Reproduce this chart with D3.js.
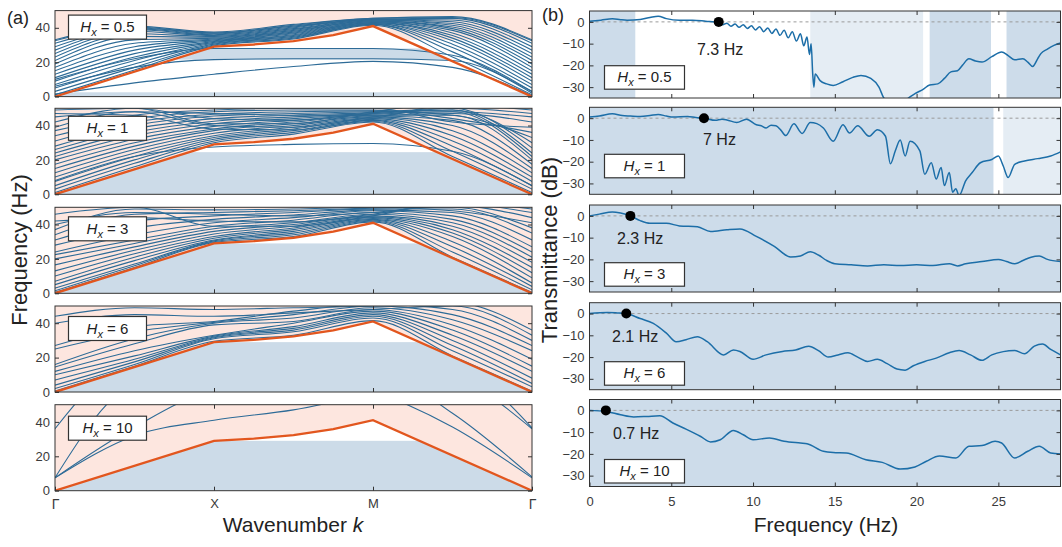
<!DOCTYPE html>
<html><head><meta charset="utf-8">
<script src="https://cdn.jsdelivr.net/npm/d3@7"></script>
<style>body{margin:0;background:#fff} text{font-family:"Liberation Sans",Arial,sans-serif}</style>
</head><body>
<svg id="c" width="1062" height="547"></svg>
<script>
// ---------- DATA ----------
const hxLabels = ['0.5','1','3','6','10'];
const kTicks = [0,1,2,3];
const kLabels = ['Γ','X','M','Γ'];
const freqTicks = [0,20,40];
const dbTicks = [0,-10,-20,-30];
const hzTicks = [0,5,10,15,20,25];
const kGrid = [0,0.5,1,1.5,2,2.5,3];
const orangeK = [0,1,1.25,1.5,1.75,2,3];
const orangeF = [0,29,30.3,32.3,35.8,41,0];
const pinkFloor = [33,0,0,0,0];
const blueBands = [[[0,2.5],[21.5,28]],[[0,24.5]],[[0,29]],[[0,29]],[[0,29]]];

const bands05 = [
 [1.5,8,13,17.5,20.5,17,0.5],[6,17,21.5,22,22,21,2],[10,22,28,28,28,24,3],
 [1,15.5,29.5,33.5,41.5,23,1],[3,17,30,34,42,26,3],[5,19,30.5,34.5,42,28.5,5],
 [7,21,31,35,42.5,30.5,7],[9,23,31.5,35.5,42.5,32.5,9],[11,25,32,36,43,34,11],
 [13,27,32.5,36.5,43,35.5,13],[15,29,33,37,43.5,37,15],[17,31,33.5,37.5,43.5,38.5,17],
 [19,33,34,38,44,39.5,19],[21,35,34.5,38.5,44,40.5,21],[23,36.5,35,39,44.5,41.5,23],
 [25,38,35.5,39.5,44.5,42.5,25],[27,39,36,40,45,43.5,27],[29,39.5,36.5,40.5,45,44.5,29],
 [31,40,37,41,45,45.5,31],[32.5,40.5,37,41.5,45.5,46,32.5],[33,41,37.5,42,45.5,46.5,33]
];
const bands1 = [
 [8,22,27.5,29,29.5,25,5],
 [1,16,30,35,42,22,1],[3,18,31,36,42.5,25,3],[5,20,32,37,43,28,5],[7.5,22,33,38,43.5,31,7.5],
 [10,24,34,39,44,34,10],[12.5,26,35.5,40,44.5,37,12.5],[15,28,37,41,45,40,15],
 [17.5,30,38,42,45.5,43,17.5],[20,32,39.5,43,46,46,20],[22,34,41,44,46.5,48,22],
 [24,36,42.5,45,47,49,24],[26,38,44,46,47.5,50,27],[28,40,45.5,47,48,49,30],
 [31,42,46.5,48,48.5,46,33],[34,44,48,49,49,44,36],[37,46,49,50,50,42,39],
 [39,48,47,46,46,47,42],[42,50,44,43,47,48,45],[45,48,40,39,45,50,47],
 [47,46,38,37.5,44,52,49],[49,50,41,41,48,53,51]
];
const bands3 = [
 [0.5,15,29.5,33,41.5,21,0.5],[1.5,16,30,34,42,24,2],[3,17,30.5,35,42.5,27,4],
 [5,19,31,36,43,30,6],[7,21,32,37,43.5,33,9],[10,23,33,38,44,35,12],
 [13,25,34.5,39,44.5,37,15],[16.5,27,36,40,45,39,18],[20,29,37.5,41,46,41,21],
 [22.5,31,39,42.5,47,43,24],[24,34,41,44,48,45,27],[28,38,43,45.5,48.5,47,31],
 [31,42,45,47,49,49,35],[34,46,47,48,49.5,50,38],[37,49,48.5,49,50,48,41],
 [40,47,46,45,47,51,44],[42,44,42,41.5,46,52,47],[46,50,39,39,45,53,49]
];
const bands6 = [
 [0.5,15,29.5,33,41.5,21,0.5],[2,16,31,35,43,24,3],[4,17.5,31.5,36,44,27,5],
 [7,19,32,37,45,30,8],[10,21,32.5,38,46,33,12],[12,24,33,40,47,36,15],
 [14.5,28,39,41,48,39,19],[16,31,40,43,49,42,24],[25,35,40.5,45,50,45,27],
 [27,38,41,47,51,48,30],[40,45,44,46,48,50,33],[44,49,48,49,50,52,36]
];
const bands10 = [
 [7.5,32,41,47,56,60,60],[7.5,37,58,62,62,62,62],[7.5,62,70,70,70,70,70],
 [36,75,75,75,75,75,75],[70,70,70,70,58,37,7.5],[70,70,70,70,70,45,8],
 [70,70,70,70,70,65,36],[70,70,70,70,70,70,36.5]
];

const trans05 = [[0,0.3],[0.7,0.8],[1.4,1.4],[1.9,1.0],[2.3,0.8],[3.1,1.1],[3.7,2.0],[4.2,2.6],[4.7,1.5],[5.5,0.8],[6.3,0.8],[7.1,0.3],[7.9,-0.3],
 [8.15,-1.3],[8.4,-0.6],[8.65,-2.0],[8.9,-1.0],[9.15,-2.5],[9.4,-1.3],[9.65,-3.0],[9.9,-1.8],[10.15,-3.7],[10.4,-2.2],[10.65,-4.5],[10.9,-2.8],
 [11.15,-5.3],[11.4,-3.3],[11.65,-6.2],[11.9,-3.8],[12.15,-7.3],[12.4,-4.5],[12.65,-8.8],[12.9,-5.5],[13.1,-11],[13.3,-7],[13.45,-15],[13.55,-10],
 [13.65,-24],[13.72,-30],[13.8,-24],[14.1,-27],[14.5,-28.5],[14.9,-29.2],[15.5,-27.5],[16.1,-25.5],[16.6,-24.6],[17.2,-26],[17.7,-30],[18.0,-35],
 [18.6,-38],[19.2,-37],[19.5,-35],[19.9,-33],[20.4,-31],[20.8,-29],[21.3,-28.5],[21.7,-26],[22.1,-23],[22.5,-22.5],[22.8,-20],[23.2,-17],
 [23.6,-18],[24.0,-18.5],[24.6,-16],[25.2,-13.8],[25.6,-15.5],[26.0,-17.4],[26.5,-17],[26.8,-18.5],[27.1,-20.5],[27.4,-17],[27.6,-14.6],
 [28.0,-12.5],[28.4,-10.8],[28.8,-9.7]];
const trans1 = [[0,0.5],[0.6,1.0],[1.4,2.0],[2.0,1.2],[2.5,1.0],[3.1,0.8],[3.7,1.2],[4.2,1.7],[4.7,1.0],[5.1,0.5],[6.0,0.8],[6.5,0.3],[7.0,0],
 [7.7,-1.0],[8.1,-0.5],[8.4,-0.8],[9.0,-2.0],[9.6,-0.5],[10.2,-3.0],[10.5,-3.5],[10.8,-4.5],[11.1,-3.2],[11.4,-3.5],[11.7,-5.5],[12.0,-8],
 [12.5,-2.6],[13.0,-7],[13.5,-2],[13.9,-2.5],[14.3,-4.5],[14.9,-10.6],[15.5,-3],[15.9,-6.8],[16.4,-3.5],[17.1,-8.3],[17.6,-5.3],[18.1,-8.3],
 [18.4,-21],[18.7,-15],[19.0,-10],[19.3,-17.4],[19.6,-10.6],[20.2,-15],[20.5,-25.8],[20.9,-20.5],[21.2,-28],[21.5,-22.7],[21.7,-31],[22.0,-25],
 [22.2,-34],[22.4,-32.5],[22.6,-35.6],[23.0,-28.8],[23.4,-25],[23.9,-20.5],[24.6,-19],[25.0,-17.4],[25.3,-22],[25.6,-27.3],[26.0,-21.2],
 [26.6,-19.7],[27.4,-18.6],[28.2,-17.4],[28.8,-15.5]];
const trans3 = [[0,0],[0.6,0.8],[1.4,1.8],[1.9,1.3],[2.5,0],[3.1,-2.2],[3.7,-3.4],[4.7,-3.4],[5.5,-4.6],[6.6,-5],[7.4,-7.2],[8.4,-6.4],[9.2,-6],
 [10.2,-9.4],[11.3,-14],[12.3,-18.9],[12.9,-18.4],[13.5,-16.5],[14.0,-18],[14.5,-20.5],[15.0,-22],[16.0,-22.5],[17.0,-23],[18.0,-22.5],
 [19.0,-22.8],[20.0,-22.5],[21.0,-22.8],[22.0,-22],[22.5,-23],[23.0,-22],[24.0,-21],[25.0,-20],[25.5,-21],[26.0,-22],[26.5,-20.5],[27.0,-19],
 [27.5,-18.5],[28.0,-20],[28.8,-21]];
const trans6 = [[0,0],[1.1,0.5],[1.7,0.3],[2.25,0],[3.1,-2.3],[3.9,-4.5],[4.7,-9],[5.3,-13],[5.9,-12],[6.6,-10.6],[7.2,-12.9],[8.2,-19],
 [8.8,-16.7],[9.2,-17.4],[10.0,-21],[10.8,-19],[11.8,-17.4],[12.6,-16.7],[13.4,-15],[14.0,-17],[14.6,-20],[15.2,-19],[15.8,-18],[16.4,-20],
 [17.0,-22],[17.6,-21],[18.2,-23],[18.8,-25.5],[19.3,-26],[19.8,-24],[20.5,-22],[21.2,-20.5],[22.0,-18],[22.6,-17],[23.3,-19],[24.0,-21.5],
 [24.6,-19],[25.3,-17.5],[26.0,-17],[26.6,-18.5],[27.2,-15],[27.7,-14],[28.2,-16.5],[28.8,-19]];
const trans10 = [[0,0],[1.0,-0.5],[1.9,-2],[2.7,-3],[3.5,-2.8],[4.3,-2.5],[5.1,-5.8],[5.9,-8.6],[6.8,-12],[7.4,-14.5],[8.0,-13.5],[8.8,-9.2],
 [9.4,-11.2],[10.0,-13.5],[11.0,-12.7],[11.9,-14.2],[12.9,-15],[13.3,-15.3],[14.3,-18.8],[14.9,-19.4],[15.7,-19.6],[16.9,-22.7],[17.9,-23.9],
 [19.0,-27],[19.9,-26],[20.6,-23.4],[21.4,-21],[22.4,-21.9],[23.2,-16.5],[24.0,-16.2],[24.8,-14.2],[25.2,-15],[26.0,-21.9],[26.8,-18.8],
 [27.5,-16.5],[28.2,-19.6],[28.8,-20]];
const dotFreq = [7.9,7.0,2.5,2.25,1.0];
const dotLabels = ['7.3 Hz','7 Hz','2.3 Hz','2.1 Hz','0.7 Hz'];
const shadeB = [
 [[0,2.8,'m'],[13.5,20.4,'l'],[20.8,24.55,'m'],[25.5,28.8,'m']],
 [[0,24.7,'m'],[25.3,28.8,'l']],
 [[0,28.8,'m']],[[0,28.8,'m']],[[0,28.8,'m']]
];

// ---------- LAYOUT / STYLE ----------
const leftTop = [10.6,108.3,207.3,306,404.7], leftH = 86;
const rightTop = [11,107.3,205,302.7,399.5], rightH = 87;
const legOffL = [4.5,8,9.5,10.5,11.5];
const legOffR = [54.7,47,57.7,59,60];
const dotLabelX = [697,703,617,612,613];
const dotLabelDy = [38,32,33,33,33];
const PINK='#fde6df', BLUEL='#ccdbe8', MIDR='#cddcea', LIGHTR='#e5edf4';
const LINEL='#2d6b97', LINER='#1c6ea8', ORANGE='#e2561e', AX='#333', TXT='#3a3a3a';

const svg = d3.select('#c');
const defs = svg.append('defs');
const kx = d3.scaleLinear().domain([0,3]).range([55,532]);
const fx = d3.scaleLinear().domain([0,28.8]).range([589.5,1060.5]);
const allBands = [bands05,bands1,bands3,bands6,bands10];
const allTrans = [trans05,trans1,trans3,trans6,trans10];

function styleAxis(a){
  a.select('.domain').remove();
  a.attr('font-size',13).attr('font-family','"Liberation Sans",Arial,sans-serif');
  a.selectAll('line').attr('stroke',AX);
  a.selectAll('text').attr('fill',TXT);
}
function legend(g,x,y,w,h,lab){
  g.append('rect').attr('x',x).attr('y',y).attr('width',w).attr('height',h).attr('fill','#fff').attr('stroke',AX).attr('stroke-width',1.2);
  const t = g.append('text').attr('x',x+w/2).attr('y',y+h/2+5).attr('text-anchor','middle').attr('font-size',15).attr('fill','#222');
  t.append('tspan').attr('font-style','italic').text('H');
  t.append('tspan').attr('font-style','italic').attr('font-size',11).attr('dy',4).text('x');
  t.append('tspan').attr('dy',-4).text(' = '+lab);
}

// ---------- (a) band structures ----------
allBands.forEach((bands,i)=>{
  const top = leftTop[i];
  const y = d3.scaleLinear().domain([0,50]).range([top+leftH, top]);
  const g = svg.append('g');
  defs.append('clipPath').attr('id','lc'+i).append('rect').attr('x',55).attr('y',top).attr('width',477).attr('height',leftH);
  const oPts = orangeK.map((k,j)=>[k,orangeF[j]]);
  const under = d3.area().x(d=>kx(d[0])).y0(y(0)).y1(d=>y(d[1]));
  defs.append('clipPath').attr('id','uo'+i).append('path').attr('d',under(oPts));
  g.append('rect').attr('x',55).attr('y',top).attr('width',477).attr('height',leftH).attr('fill','#fff');
  g.append('rect').attr('x',55).attr('y',y(50)).attr('width',477).attr('height',y(pinkFloor[i])-y(50)).attr('fill',PINK);
  g.append('path').attr('d',under(oPts)).attr('fill','#fff');
  blueBands[i].forEach(b=>{
    g.append('rect').attr('x',55).attr('width',477).attr('y',y(b[1])).attr('height',y(b[0])-y(b[1]))
     .attr('fill',BLUEL).attr('clip-path',`url(#uo${i})`);
  });
  const line = d3.line().x((d,j)=>kx(kGrid[j])).y(d=>y(d)).curve(d3.curveMonotoneX);
  const lg = g.append('g').attr('clip-path',`url(#lc${i})`);
  bands.forEach(b=>lg.append('path').attr('d',line(b)).attr('fill','none').attr('stroke',LINEL).attr('stroke-width',1.1));
  lg.append('path').attr('d',d3.line().x(d=>kx(d[0])).y(d=>y(d[1]))(oPts)).attr('fill','none').attr('stroke',ORANGE).attr('stroke-width',2.3);
  // axes
  g.append('g').attr('transform','translate(55,0)').call(d3.axisLeft(y).tickValues(freqTicks).tickSize(-4).tickPadding(5)).call(styleAxis);
  g.append('g').attr('transform','translate(532,0)').call(d3.axisRight(y).tickValues(freqTicks).tickSize(-4).tickFormat('')).call(styleAxis);
  g.append('g').attr('transform',`translate(0,${top})`).call(d3.axisTop(kx).tickValues([1,2]).tickSize(-4).tickFormat('')).call(styleAxis);
  const bx = g.append('g').attr('transform',`translate(0,${top+leftH})`)
    .call(d3.axisBottom(kx).tickValues(i===4?kTicks:[1,2]).tickSize(-4).tickPadding(8).tickFormat(i===4?((d,j)=>kLabels[j]):''))
    .call(styleAxis);
  bx.selectAll('text').filter(d=>d===0||d===3).attr('font-family','"Liberation Serif",serif').attr('font-size',14);
  g.append('rect').attr('x',55).attr('y',top).attr('width',477).attr('height',leftH).attr('fill','none').attr('stroke',AX).attr('stroke-width',1);
  legend(g,68.5,top+legOffL[i],78,24,hxLabels[i]);
});

// ---------- (b) transmittance ----------
allTrans.forEach((tr,i)=>{
  const top = rightTop[i];
  const y = d3.scaleLinear().domain([-35,5]).range([top+rightH, top]);
  const g = svg.append('g');
  defs.append('clipPath').attr('id','rc'+i).append('rect').attr('x',589.5).attr('y',top).attr('width',471).attr('height',rightH);
  g.append('rect').attr('x',589.5).attr('y',top).attr('width',471).attr('height',rightH).attr('fill','#fff');
  shadeB[i].forEach(s=>{
    g.append('rect').attr('x',fx(s[0])).attr('y',top).attr('width',fx(s[1])-fx(s[0])).attr('height',rightH)
     .attr('fill',s[2]==='m'?MIDR:LIGHTR);
  });
  g.append('line').attr('x1',589.5).attr('x2',1060.5).attr('y1',y(0)).attr('y2',y(0))
   .attr('stroke','#9a9a9a').attr('stroke-width',1).attr('stroke-dasharray','3,3');
  const line = d3.line().x(d=>fx(d[0])).y(d=>y(d[1])).curve(d3.curveMonotoneX);
  g.append('g').attr('clip-path',`url(#rc${i})`).append('path').attr('d',line(tr)).attr('fill','none').attr('stroke',LINER).attr('stroke-width',1.5);
  g.append('circle').attr('cx',fx(dotFreq[i])).attr('cy',y(0)).attr('r',5).attr('fill','#000');
  g.append('text').attr('x',dotLabelX[i]).attr('y',top+dotLabelDy[i]+6).attr('font-size',16).attr('fill','#222').text(dotLabels[i]);
  g.append('g').attr('transform','translate(589.5,0)').call(d3.axisLeft(y).tickValues(dbTicks).tickSize(-4).tickPadding(5)).call(styleAxis);
  g.append('g').attr('transform','translate(1060.5,0)').call(d3.axisRight(y).tickValues(dbTicks).tickSize(-4).tickFormat('')).call(styleAxis);
  g.append('g').attr('transform',`translate(0,${top})`).call(d3.axisTop(fx).tickValues(hzTicks.slice(1)).tickSize(-4).tickFormat('')).call(styleAxis);
  g.append('g').attr('transform',`translate(0,${top+rightH})`)
   .call(d3.axisBottom(fx).tickValues(i===4?hzTicks:hzTicks.slice(1)).tickSize(-4).tickPadding(10).tickFormat(i===4?d3.format('d'):''))
   .call(styleAxis);
  g.append('rect').attr('x',589.5).attr('y',top).attr('width',471).attr('height',rightH).attr('fill','none').attr('stroke',AX).attr('stroke-width',1);
  legend(g,604.5,top+legOffR[i],80,23.5,hxLabels[i]);
});

// ---------- titles ----------
svg.append('text').attr('x',7).attr('y',24).attr('font-size',18).attr('fill','#222').text('(a)');
svg.append('text').attr('x',542).attr('y',21).attr('font-size',18).attr('fill','#222').text('(b)');
svg.append('text').attr('transform','translate(27,250) rotate(-90)').attr('text-anchor','middle').attr('font-size',22).attr('fill','#222').text('Frequency (Hz)');
svg.append('text').attr('transform','translate(557,250) rotate(-90)').attr('text-anchor','middle').attr('font-size',22).attr('fill','#222').text('Transmittance (dB)');
const wk = svg.append('text').attr('x',293).attr('y',532).attr('text-anchor','middle').attr('font-size',21).attr('fill','#222');
wk.append('tspan').text('Wavenumber ');
wk.append('tspan').attr('font-style','italic').text('k');
svg.append('text').attr('x',826).attr('y',532).attr('text-anchor','middle').attr('font-size',21).attr('fill','#222').text('Frequency (Hz)');
</script>
</body></html>
